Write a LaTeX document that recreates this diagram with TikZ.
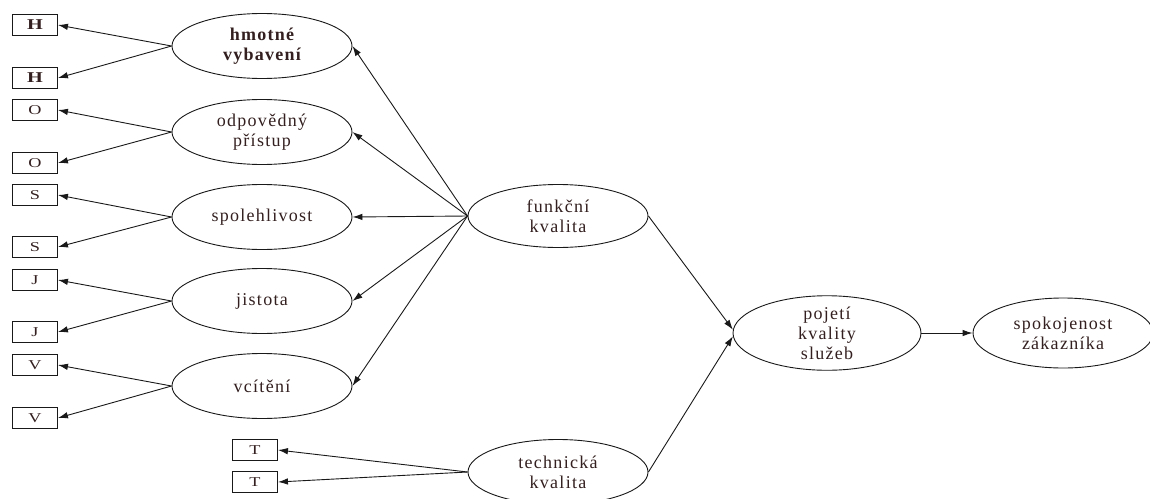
\documentclass[tikz,border=0pt]{standalone}
\usepackage{fontspec}
\setmainfont{Liberation Serif}[LetterSpace=7]
\newfontfamily\boxfont{Liberation Serif}[FakeStretch=1.35]
\usetikzlibrary{shapes.geometric,arrows.meta}
\definecolor{txt}{rgb}{0.2,0.12,0.12}
\definecolor{ln}{rgb}{0.1,0.1,0.1}
\begin{document}
\begin{tikzpicture}[x=1pt,y=-1pt,
  ell/.style={ellipse,draw=ln,line width=0.9pt,minimum width=180pt,minimum height=65pt,inner sep=0pt,align=center,
    text=txt,font=\fontsize{18}{20}\selectfont},
  lbox/.style={rectangle,draw=ln,line width=0.9pt,minimum width=45pt,minimum height=21pt,inner sep=0pt,
    text=txt,font=\boxfont\fontsize{13.5}{15}\selectfont},
  hbox/.style={lbox,font=\boxfont\fontsize{15}{16}\selectfont\bfseries},
  arr/.style={-{Latex[length=10pt,width=6.5pt]},draw=ln,line width=0.9pt}]
\useasboundingbox (0,0) rectangle (1150,498);
% left indicator boxes
\node[hbox] (h1) at (35,25) {H};
\node[hbox] (h2) at (35,78) {H};
\node[lbox] (o1) at (35,110) {O};
\node[lbox] (o2) at (35,163) {O};
\node[lbox] (s1) at (35,195) {S};
\node[lbox] (s2) at (35,247) {S};
\node[lbox] (j1) at (35,280) {J};
\node[lbox] (j2) at (35,332) {J};
\node[lbox] (v1) at (35,365) {V};
\node[lbox] (v2) at (35,418) {V};
\node[lbox] (t1) at (255,450) {T};
\node[lbox] (t2) at (255,482) {T};
% ellipses
\node[ell,font=\fontsize{18}{20}\selectfont\bfseries] (hm) at (262,46) {hmotné\\vybavení};
\node[ell] (od) at (262,132) {odpovědný\\přístup};
\node[ell] (sp) at (262,217) {spolehlivost};
\node[ell] (ji) at (262,301) {jistota};
\node[ell] (vc) at (262,386) {vcítění};
\node[ell,minimum height=63pt] (fk) at (558,216) {funkční\\kvalita};
\node[ell] (tk) at (558,472) {technická\\kvalita};
\node[ell,minimum width=188pt,minimum height=64pt] (pj) at (827,333) {pojetí\\kvality\\služeb};
\node[ell,minimum height=70pt] (sz) at (1063,333) {spokojenost\\zákazníka};
% connectors
\foreach \e/\a/\b in {hm/h1/h2,od/o1/o2,sp/s1/s2,ji/j1/j2,vc/v1/v2}{
  \draw[arr] (\e.west) -- (\a.east);
  \draw[arr] (\e.west) -- (\b.east);
  \draw[arr] (fk.west) -- (\e.east);
}
\draw[arr] (tk.west) -- (t1.east);
\draw[arr] (tk.west) -- (t2.east);
\draw[arr] (fk.east) -- (pj.178);
\draw[arr] (tk.east) -- (pj.182);
\draw[arr] (pj.east) -- (sz.west);
\end{tikzpicture}
\end{document}
